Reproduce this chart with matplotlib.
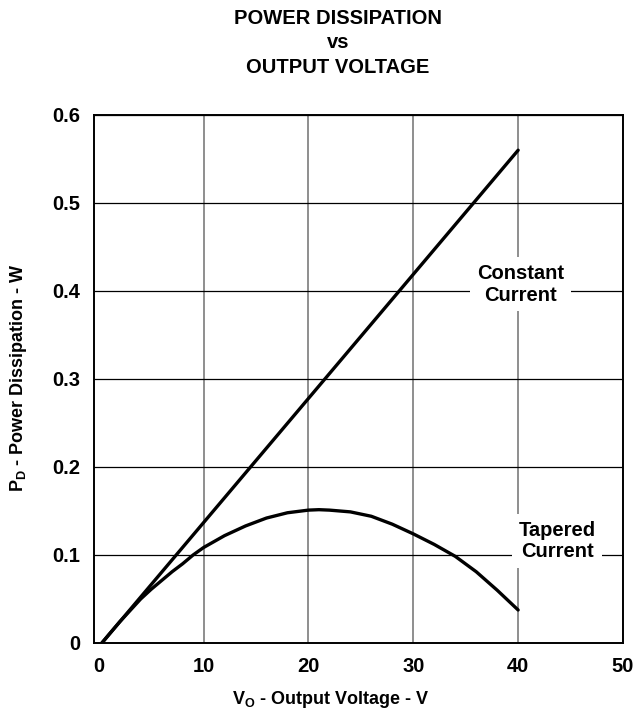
import matplotlib
matplotlib.use("Agg")
from matplotlib import pyplot as plt

# data
const_v = [0.3, 40]
const_p = [0.0, 0.56]

taper_v = [0.3, 1, 2, 3, 4, 5, 6, 7, 8, 9, 10, 12, 14, 16, 18, 20, 21, 22, 24, 26, 28, 30, 32, 34, 36, 38, 40]
taper_p = [0.0, 0.010, 0.024, 0.037, 0.050, 0.061, 0.071, 0.081, 0.090, 0.100, 0.1085, 0.122, 0.133, 0.142,
           0.148, 0.151, 0.1515, 0.151, 0.149, 0.144, 0.135, 0.124, 0.112, 0.0985, 0.081, 0.060, 0.0375]

x_ticks = [0, 10, 20, 30, 40, 50]
y_ticks = [0, 0.1, 0.2, 0.3, 0.4, 0.5, 0.6]
y_ticklabels = ["0", "0.1", "0.2", "0.3", "0.4", "0.5", "0.6"]

plt.rcParams['font.family'] = ['Liberation Sans', 'DejaVu Sans']
plt.rcParams['font.weight'] = 'bold'
plt.rcParams['mathtext.fontset'] = 'custom'
plt.rcParams['mathtext.rm'] = 'Liberation Sans:bold'
plt.rcParams['mathtext.bf'] = 'Liberation Sans:bold'
plt.rcParams['mathtext.it'] = 'Liberation Sans:bold'

fig = plt.figure(figsize=(6.35, 7.27), dpi=100)
ax = fig.add_axes([94 / 635, 84 / 727, 529 / 635, 528 / 727])

ax.set_xlim(-0.45, 50)
ax.set_ylim(0, 0.6)
ax.set_xticks(x_ticks)
ax.set_yticks(y_ticks)
ax.set_yticklabels(y_ticklabels)
ax.tick_params(length=0, labelsize=14.5)
ax.tick_params(axis='x', pad=10)
ax.tick_params(axis='y', pad=10)
for lbl in ax.get_xticklabels() + ax.get_yticklabels():
    lbl.set_fontweight('bold')

# grid: horizontal black, vertical grey
ax.grid(axis='y', color='black', lw=0.9)
ax.grid(axis='x', color='#707070', lw=1.1)
ax.xaxis.get_gridlines()[0].set_visible(False)  # x=0 sits on the left spine
ax.set_axisbelow(True)
for s in ax.spines.values():
    s.set_linewidth(1.4)
    s.set_color('black')

ax.plot(const_v, const_p, color='black', lw=2.4, solid_capstyle='round', zorder=3)
ax.plot(taper_v, taper_p, color='black', lw=2.4, solid_capstyle='round', solid_joinstyle='round', zorder=3)

box = dict(facecolor='white', edgecolor='none', pad=5)
ax.text(40.2, 0.4075, "Constant\nCurrent", ha='center', va='center', fontsize=14.5,
        fontweight='bold', linespacing=1.15, bbox=box, zorder=2)
ax.text(43.7, 0.1157, "Tapered\nCurrent", ha='center', va='center', fontsize=14.5,
        fontweight='bold', linespacing=1.15, bbox=box, zorder=2)

fig.text(338 / 635, 1 - 43 / 727, "POWER DISSIPATION\nvs\nOUTPUT VOLTAGE", ha='center', va='center',
         fontsize=14.5, fontweight='bold', linespacing=1.38)
fig.text(331 / 635, 1 - 700 / 727, r"$\mathregular{V_O}$ - Output Voltage - V", ha='center', va='center',
         fontsize=13, fontweight='bold')
fig.text(19 / 635, 1 - 378 / 727, r"$\mathregular{P_D}$ - Power Dissipation - W", ha='center', va='center',
         fontsize=13, fontweight='bold', rotation=90)

fig.savefig("out.png", dpi=100)
